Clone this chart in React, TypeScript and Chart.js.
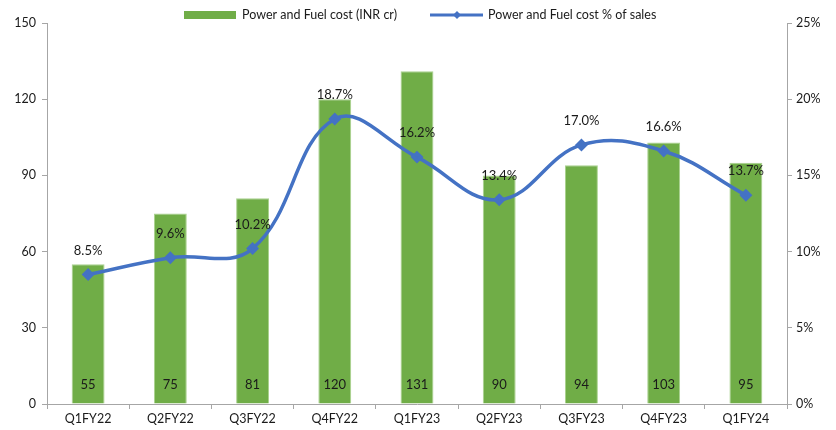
import React, { useEffect, useRef } from "react";
import { Chart, registerables } from "chart.js";

Chart.register(...registerables);

const categories = ["Q1FY22", "Q2FY22", "Q3FY22", "Q4FY22", "Q1FY23", "Q2FY23", "Q3FY23", "Q4FY23", "Q1FY24"];
const costValues = [55, 75, 81, 120, 131, 90, 94, 103, 95];
const pctValues = [8.5, 9.6, 10.2, 18.7, 16.2, 13.4, 17.0, 16.6, 13.7];
const leftTicks = [0, 30, 60, 90, 120, 150];
const rightTicks = [0, 5, 10, 15, 20, 25];
const barLabel = "Power and Fuel cost (INR cr)";
const lineLabel = "Power and Fuel cost % of sales";

const GREEN = "#70AD47";
const BLUE = "#4472C4";
const FONT = "Lato, 'Liberation Sans', sans-serif";
const TEXT = "#1a1a1a";
const AXIS = "#A6A6A6";

const labelsPlugin = {
  id: "customLabels",
  afterDatasetsDraw(chart: any) {
    const ctx = chart.ctx;
    ctx.save();
    ctx.font = `13px ${FONT}`;
    ctx.fillStyle = TEXT;
    ctx.textAlign = "center";
    ctx.textBaseline = "middle";
    const barMeta = chart.getDatasetMeta(0);
    const yBase = chart.scales.y.getPixelForValue(0);
    barMeta.data.forEach((el: any, i: number) => {
      ctx.fillText(String(costValues[i]), el.x, yBase - 19);
    });
    const lineMeta = chart.getDatasetMeta(1);
    lineMeta.data.forEach((el: any, i: number) => {
      ctx.fillText(pctValues[i].toFixed(1) + "%", el.x, el.y - 24);
    });
    ctx.restore();
  },
  afterDraw(chart: any) {
    const ctx = chart.ctx;
    ctx.save();
    ctx.font = `12.5px ${FONT}`;
    ctx.textBaseline = "middle";
    ctx.textAlign = "left";
    ctx.fillStyle = GREEN;
    ctx.fillRect(184, 11, 52, 8);
    ctx.fillStyle = TEXT;
    ctx.fillText(barLabel, 242, 15);
    ctx.strokeStyle = BLUE;
    ctx.lineWidth = 3;
    ctx.beginPath();
    ctx.moveTo(430, 15);
    ctx.lineTo(483, 15);
    ctx.stroke();
    ctx.fillStyle = BLUE;
    ctx.beginPath();
    ctx.moveTo(457, 11);
    ctx.lineTo(461, 15);
    ctx.lineTo(457, 19);
    ctx.lineTo(453, 15);
    ctx.closePath();
    ctx.fill();
    ctx.fillStyle = TEXT;
    ctx.fillText(lineLabel, 488, 15);
    ctx.restore();
  },
};

export default function App() {
  const ref = useRef<HTMLCanvasElement>(null);
  useEffect(() => {
    if (!ref.current) return;
    const chart = new Chart(ref.current, {
      type: "bar",
      data: {
        labels: categories,
        datasets: [
          {
            type: "bar",
            label: barLabel,
            data: costValues,
            backgroundColor: GREEN,
            borderColor: "#A9D18E",
            borderWidth: 1,
            categoryPercentage: 1,
            barPercentage: 0.4,
            yAxisID: "y",
            order: 2,
          },
          {
            type: "line",
            label: lineLabel,
            data: pctValues,
            borderColor: BLUE,
            backgroundColor: BLUE,
            borderWidth: 3.5,
            tension: 0.4,
            pointStyle: "rectRot",
            pointRadius: 4,
            pointBackgroundColor: BLUE,
            pointBorderColor: BLUE,
            yAxisID: "y1",
            order: 1,
          } as any,
        ],
      },
      options: {
        animation: false,
        responsive: false,
        layout: { padding: { top: 23, left: 0, right: 0, bottom: 0 } },
        plugins: { legend: { display: false }, tooltip: { enabled: false } },
        scales: {
          x: {
            grid: { offset: true, drawOnChartArea: false, color: AXIS, tickLength: 5 },
            border: { color: AXIS },
            ticks: { color: TEXT, font: { family: FONT, size: 12.5 }, padding: 2, maxRotation: 0 },
            afterFit(s: any) { s.height = 26; },
          },
          y: {
            position: "left",
            min: 0,
            max: 150,
            afterBuildTicks(s: any) { s.ticks = leftTicks.map((v) => ({ value: v })); },
            grid: { drawOnChartArea: false, color: AXIS, tickLength: 5 },
            border: { color: AXIS },
            ticks: { color: TEXT, font: { family: FONT, size: 12.5 }, padding: 6 },
            afterFit(s: any) { s.width = 47; },
          },
          y1: {
            position: "right",
            min: 0,
            max: 25,
            afterBuildTicks(s: any) { s.ticks = rightTicks.map((v) => ({ value: v })); },
            grid: { drawOnChartArea: false, color: AXIS, tickLength: 5 },
            border: { color: AXIS },
            ticks: { color: TEXT, font: { family: FONT, size: 12.5 }, padding: 4, callback: (v: any) => v + "%" },
            afterFit(s: any) { s.width = 49; },
          },
        },
      },
      plugins: [labelsPlugin],
    });
    return () => chart.destroy();
  }, []);
  return (
    <div style={{ position: "fixed", left: 0, top: 0, width: 836, height: 430, background: "#fff" }}>
      <canvas ref={ref} width={836} height={430} style={{ width: 836, height: 430 }} />
    </div>
  );
}
